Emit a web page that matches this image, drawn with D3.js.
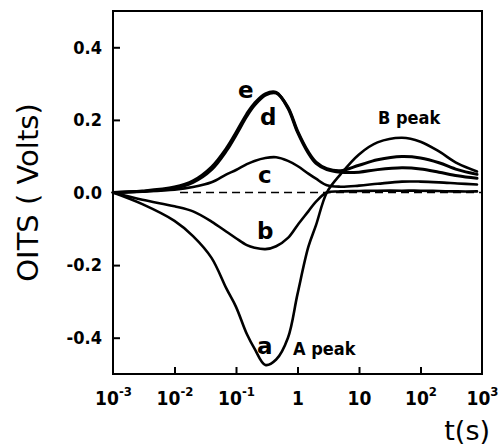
<!DOCTYPE html>
<html>
<head>
<meta charset="utf-8">
<script src="https://cdn.jsdelivr.net/npm/d3@7"></script>
<style>
  html, body { margin: 0; padding: 0; background: #fff; }
  svg { display: block; }
</style>
</head>
<body>
<svg id="chart" width="498" height="448"></svg>
<script>
// ---- data ----
const tValues = [0.001, 0.003, 0.01, 0.02, 0.04, 0.07, 0.1, 0.15, 0.2, 0.3, 0.45, 0.7, 1, 1.5, 2, 3, 5, 10, 20, 50, 100, 200, 400, 830];
const seriesA = [0, -0.032, -0.078, -0.12, -0.18, -0.265, -0.315, -0.39, -0.43, -0.475, -0.46, -0.40, -0.28, -0.15, -0.09, 0.0, 0.05, 0.105, 0.138, 0.151, 0.14, 0.113, 0.08, 0.058];
const seriesB = [0, -0.02, -0.038, -0.052, -0.08, -0.108, -0.126, -0.145, -0.152, -0.156, -0.148, -0.125, -0.09, -0.052, -0.025, 0.0, 0.003, 0.004, 0.005, 0.005, 0.005, 0.004, 0.003, 0.003];
const seriesC = [0, 0.003, 0.008, 0.015, 0.028, 0.05, 0.062, 0.078, 0.087, 0.095, 0.097, 0.087, 0.073, 0.052, 0.038, 0.02, 0.016, 0.019, 0.024, 0.03, 0.03, 0.028, 0.025, 0.022];
const seriesD = [0, 0.003, 0.012, 0.028, 0.063, 0.115, 0.158, 0.21, 0.24, 0.268, 0.274, 0.235, 0.17, 0.112, 0.084, 0.066, 0.06, 0.075, 0.09, 0.099, 0.095, 0.082, 0.063, 0.05];
const seriesE = [0, 0.004, 0.015, 0.032, 0.07, 0.122, 0.165, 0.217, 0.246, 0.272, 0.276, 0.232, 0.166, 0.108, 0.08, 0.063, 0.056, 0.056, 0.063, 0.068, 0.065, 0.056, 0.046, 0.039];
const seriesNames = ["a", "b", "c", "d", "e"];

const xTickValues = [0.001, 0.01, 0.1, 1, 10, 100, 1000];
const xTickBase = ["10", "10", "10", "1", "10", "10", "10"];
const xTickExp = ["-3", "-2", "-1", "", "", "2", "3"];
const yTickValues = [-0.4, -0.2, 0.0, 0.2, 0.4];
const yTickLabels = ["-0.4", "-0.2", "0.0", "0.2", "0.4"];

// curve labels anchored in data space: [text, t, value]
const curveLabels = [["e", 0.108, 0.26], ["d", 0.245, 0.186], ["c", 0.228, 0.027], ["b", 0.22, -0.129], ["a", 0.22, -0.444]];
const peakLabels = [["A peak", 0.845, -0.449], ["B peak", 20.4, 0.189]];
const zeroLineStart = 0.0123;

// ---- chart ----
const svg = d3.select("#chart");
const mLeft = 113, mRight = 482, mTop = 11, mBottom = 374;
const x = d3.scaleLog().domain([1e-3, 1e3]).range([mLeft, mRight]);
const y = d3.scaleLinear().domain([-0.5, 0.5]).range([mBottom, mTop]);

const tickFont = "'DejaVu Sans Condensed', 'DejaVu Sans', sans-serif";

// frame
svg.append("rect")
  .attr("x", mLeft).attr("y", mTop)
  .attr("width", mRight - mLeft).attr("height", mBottom - mTop)
  .attr("fill", "none").attr("stroke", "#000").attr("stroke-width", 2);

// y axis
const yAxis = d3.axisLeft(y).tickValues(yTickValues).tickSize(-7).tickPadding(11)
  .tickFormat((d, i) => yTickLabels[i]);
const gy = svg.append("g").attr("transform", `translate(${mLeft},0)`).call(yAxis);
gy.select(".domain").remove();
gy.selectAll(".tick line").attr("stroke", "#000").attr("stroke-width", 2);
gy.selectAll(".tick text")
  .attr("font-family", tickFont).attr("font-weight", "bold").attr("font-size", 18)
  .attr("fill", "#000");

// x axis
const xAxis = d3.axisBottom(x).tickValues(xTickValues).tickSize(-7).tickPadding(14)
  .tickFormat(() => "");
const gx = svg.append("g").attr("transform", `translate(0,${mBottom})`).call(xAxis);
gx.select(".domain").remove();
gx.selectAll(".tick line").attr("stroke", "#000").attr("stroke-width", 2)
  .attr("display", (d, i) => (i === 0 || i === xTickValues.length - 1) ? "none" : null);
gx.selectAll(".tick text").remove();
gx.selectAll(".tick").append("text")
  .attr("y", 31)
  .attr("text-anchor", "middle")
  .attr("font-family", tickFont).attr("font-weight", "bold").attr("font-size", 19)
  .attr("fill", "#000")
  .each(function (d, i) {
    const t = d3.select(this);
    t.append("tspan").text(xTickBase[i]);
    if (xTickExp[i]) {
      t.append("tspan").attr("dy", -9).attr("font-size", 13).text(xTickExp[i]);
    }
  });

// zero dashed line
svg.append("line")
  .attr("x1", x(zeroLineStart)).attr("x2", x(1000))
  .attr("y1", y(0)).attr("y2", y(0))
  .attr("stroke", "#000").attr("stroke-width", 1.5)
  .attr("stroke-dasharray", "8,5");

// curves
const allSeries = [seriesA, seriesB, seriesC, seriesD, seriesE];
const line = d3.line()
  .x(d => x(d[0])).y(d => y(d[1]))
  .curve(d3.curveCatmullRom.alpha(0.5));
allSeries.forEach((vals, k) => {
  svg.append("path")
    .datum(tValues.map((t, i) => [t, vals[i]]))
    .attr("class", "curve-" + seriesNames[k])
    .attr("fill", "none").attr("stroke", "#000")
    .attr("stroke-width", k >= 3 ? 3 : 2.6)
    .attr("stroke-linejoin", "round").attr("stroke-linecap", "round")
    .attr("d", line);
});

// curve labels
svg.selectAll(".clabel").data(curveLabels).enter().append("text")
  .attr("class", "clabel")
  .attr("x", d => x(d[1])).attr("y", d => y(d[2]))
  .attr("font-family", "'DejaVu Sans', sans-serif").attr("font-weight", "bold")
  .attr("font-size", 23).attr("fill", "#000")
  .text(d => d[0]);

svg.selectAll(".plabel").data(peakLabels).enter().append("text")
  .attr("class", "plabel")
  .attr("x", d => x(d[1])).attr("y", d => y(d[2]))
  .attr("font-family", tickFont).attr("font-weight", "bold")
  .attr("font-size", 18).attr("fill", "#000")
  .text(d => d[0]);

// axis titles
svg.append("text")
  .attr("transform", `translate(38,${(mTop + mBottom) / 2}) rotate(-90)`)
  .attr("text-anchor", "middle")
  .attr("font-family", "'DejaVu Sans', sans-serif")
  .attr("font-size", 29).attr("fill", "#000")
  .text("OITS ( Volts)");

svg.append("text")
  .attr("x", 490).attr("y", 440)
  .attr("text-anchor", "end")
  .attr("font-family", "'DejaVu Sans', sans-serif")
  .attr("font-size", 27).attr("fill", "#000")
  .text("t(s)");
</script>
</body>
</html>
